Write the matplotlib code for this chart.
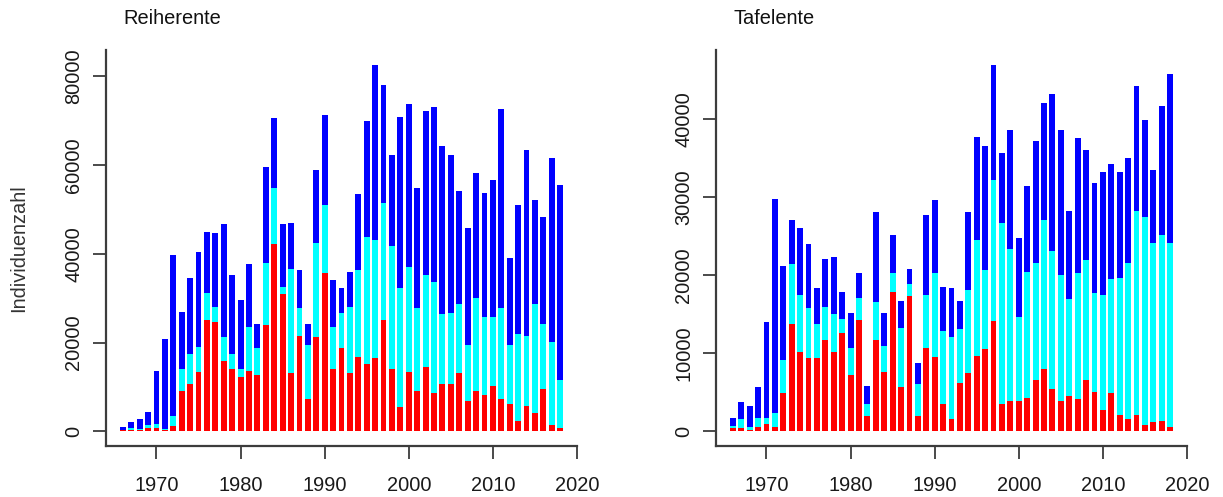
import matplotlib
matplotlib.use("Agg")
import matplotlib.pyplot as plt
import numpy as np

plt.rcParams["font.family"] = ["Liberation Sans", "DejaVu Sans"]

years = list(range(1966, 2019))

# Reiherente: stacked segments (bottom red, middle cyan, top blue)
reiher_red = [300, 400, 375, 750, 750, 375, 1125, 9200, 10600, 13400,
              25000, 24700, 15800, 14000, 12300, 13650, 12700, 24000, 42150, 30900,
              13050, 21600, 7200, 21200, 35600, 14000, 18800, 13050, 16800, 15150,
              16500, 25000, 14000, 5500, 13350, 9200, 14400, 8550, 10600, 10600,
              13050, 6800, 9200, 8200, 10300, 7200, 6150, 2400, 5800, 4100,
              9600, 1350, 700]
reiher_cyan = [100, 350, 225, 600, 980, 150, 2255, 4800, 6900, 5700,
               6100, 3400, 5400, 3500, 1700, 9950, 6100, 14000, 12750, 1600,
               23650, 6150, 12300, 21300, 15500, 9600, 7800, 15050, 19600, 28750,
               26700, 26400, 27800, 26750, 23650, 18550, 20850, 25050, 15800, 16100,
               15750, 12700, 20950, 17500, 15400, 20550, 13350, 19500, 15800, 24700,
               14700, 18850, 10900]
reiher_blue = [600, 1280, 2180, 3080, 11970, 20375, 36370, 13000, 17150, 21400,
               13750, 16500, 25450, 17800, 15500, 14100, 5500, 21600, 15750, 14150,
               10250, 8650, 4800, 16500, 20200, 10400, 5650, 7900, 17100, 26100,
               39450, 26750, 20600, 38700, 36700, 27150, 36850, 39450, 38000, 35700,
               25350, 26400, 28150, 28100, 30850, 44950, 19500, 29200, 41850, 23250,
               24000, 41500, 43900]

# Tafelente
tafel_red = [380, 380, 210, 550, 940, 550, 4860, 13800, 10100, 9370,
             9370, 11670, 10100, 12650, 7200, 14200, 1900, 11670, 7580, 17900,
             5670, 17300, 1900, 10700, 9540, 3490, 1580, 6220, 7410, 9710,
             10480, 14190, 3490, 3880, 3880, 4260, 6600, 7970, 5450, 3880,
             4470, 4090, 6600, 5070, 2730, 4860, 2130, 1580, 2130, 770,
             1150, 1360, 550]
tafel_cyan = [345, 1200, 340, 1150, 760, 1750, 4260, 7580, 7400, 6390,
              4430, 4310, 4895, 1750, 3500, 2925, 1550, 4860, 3320, 2335,
              7530, 1570, 4100, 6800, 10695, 9330, 10480, 6820, 10690, 14830,
              10140, 17930, 23180, 19460, 10730, 16190, 15000, 19080, 17680, 16140,
              12440, 16145, 15380, 12610, 14780, 14610, 17550, 20020, 26110, 26660,
              23000, 23730, 23600]
tafel_blue = [975, 2120, 2730, 3970, 12270, 27480, 12080, 5670, 8570, 8180,
              4520, 6040, 7370, 3500, 4470, 3110, 2390, 11500, 4270, 4855,
              3540, 1960, 2730, 10150, 9325, 5670, 6260, 3700, 9930, 13200,
              15970, 14830, 8940, 15210, 10100, 10900, 15590, 15040, 20110, 18530,
              11330, 17335, 14060, 14060, 15760, 14780, 13590, 13460, 15980, 12490,
              9330, 16570, 21600]

panels = [
    ("Reiherente", reiher_red, reiher_cyan, reiher_blue, [0, 20000, 40000, 60000, 80000]),
    ("Tafelente", tafel_red, tafel_cyan, tafel_blue, [0, 10000, 20000, 30000, 40000]),
]

W, H = 1223, 497
fig = plt.figure(figsize=(W / 100, H / 100), dpi=100)

lefts = [106, 716]
axis_col = "#3c3c3c"
fs = 14.4

for (title, red, cyan, blue, yt), lx in zip(panels, lefts):
    ax = fig.add_axes([lx / W, (H - 446) / H, 471 / W, 396 / H])
    x = np.array(years)
    r = np.array(red)
    c = np.array(cyan)
    b = np.array(blue)
    ax.bar(x, r, width=0.7, color="#ff0000", linewidth=0)
    ax.bar(x, c, width=0.7, bottom=r, color="#00ffff", linewidth=0)
    ax.bar(x, b, width=0.7, bottom=r + c, color="#0000ff", linewidth=0)

    top = (r + c + b).max()
    ax.set_ylim(-0.04 * top, 1.04 * top)
    ax.set_xlim(1964, 2020)

    for s in ["top", "right"]:
        ax.spines[s].set_visible(False)
    for s in ["left", "bottom"]:
        ax.spines[s].set_color(axis_col)
        ax.spines[s].set_linewidth(1.6)

    ax.set_xticks(range(1970, 2021, 10))
    ax.set_yticks(yt)
    ax.tick_params(axis="both", length=9.5, width=1.3, color=axis_col,
                   labelsize=fs, labelcolor="#1a1a1a")
    ax.tick_params(axis="x", pad=12)
    ax.tick_params(axis="y", pad=7)
    for lab in ax.get_yticklabels():
        lab.set_rotation(90)
        lab.set_va("center")

    fig.text((lx + 17) / W, 1 - 18 / H, title, fontsize=fs, ha="left", va="center",
             color="#111111")

fig.text(18.5 / W, 1 - 248 / H, "Individuenzahl", fontsize=fs, rotation=90,
         ha="center", va="center", color="#333333")

fig.savefig("out.png", dpi=100)
